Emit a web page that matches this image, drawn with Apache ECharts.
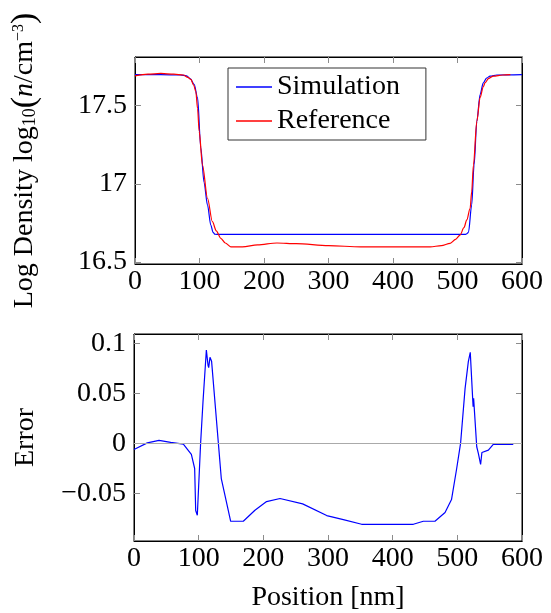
<!DOCTYPE html>
<html><head><meta charset="utf-8">
<script src="https://cdn.jsdelivr.net/npm/echarts@6/dist/echarts.min.js"></script>
<style>html,body{margin:0;padding:0;background:#fff}#c{width:551px;height:613px}</style>
</head><body><div id="c"></div>
<script>
// ---- Data ----
const simPos = [0, 40, 70, 80, 86, 91.7, 97, 102, 107, 112.4, 117.5, 121, 124, 130, 300, 511.8, 514, 517, 522, 525.7, 530, 535, 540, 545, 550.5, 561, 600];
const simVal = [17.697, 17.697, 17.695, 17.69, 17.67, 17.635, 17.55, 17.23, 17.01, 16.865, 16.737, 16.69, 16.678, 16.677, 16.677, 16.677, 16.68, 16.69, 16.865, 17.12, 17.4, 17.57, 17.645, 17.675, 17.688, 17.695, 17.697];

const refPos = [0, 20, 40, 60, 75, 82, 86.6, 91, 94.3, 97, 99.5, 104.6, 112.4, 120, 126, 133, 140, 148.5, 166.5, 190, 220, 250, 300, 350, 400, 457.7, 475, 488.6, 497, 504, 510, 514.4, 519.6, 522, 524.7, 530, 535, 540, 542.7, 548, 555.6, 570, 582];
const refVal = [17.69, 17.7, 17.705, 17.7, 17.695, 17.68, 17.667, 17.63, 17.59, 17.48, 17.335, 17.12, 16.908, 16.758, 16.7, 16.652, 16.622, 16.598, 16.598, 16.61, 16.622, 16.618, 16.605, 16.598, 16.598, 16.598, 16.605, 16.62, 16.645, 16.673, 16.72, 16.77, 16.844, 16.95, 17.12, 17.4, 17.55, 17.62, 17.645, 17.672, 17.688, 17.695, 17.697];

const errPos = [0, 2.6, 20.6, 38.7, 56.7, 76.3, 88.7, 93.8, 95.4, 97.9, 103, 106.7, 111.9, 114.5, 115.5, 117.5, 120, 135, 149.5, 169, 187, 205, 225.8, 260.8, 298, 323.7, 352, 432, 447.4, 465.4, 481, 491, 499, 505, 512, 517, 520, 523.7, 524.4, 525.2, 526.3, 530, 532.5, 536, 538, 548, 555.6, 586.5];
const errVal = [-0.006, -0.0057, 0.0006, 0.003, 0.001, -0.0007, -0.011, -0.025, -0.067, -0.0717, 0, 0.0416, 0.0933, 0.078, 0.0757, 0.086, 0.082, -0.035, -0.0777, -0.0777, -0.0667, -0.058, -0.055, -0.0603, -0.072, -0.076, -0.0807, -0.0807, -0.0777, -0.0777, -0.069, -0.056, -0.025, 0, 0.055, 0.0817, 0.091, 0.045, 0.0367, 0.045, 0.0433, -0.0033, -0.01, -0.021, -0.009, -0.0067, -0.001, -0.001];

const xTicks = [0, 100, 200, 300, 400, 500, 600];
const densTicks = [16.5, 17, 17.5];
const errTicks = [-0.05, 0, 0.05, 0.1];
const seriesNames = ['Simulation', 'Reference'];

// ---- Chart ----
const FONT = 'Liberation Serif';
const FS = 28;
const pair = (xs, ys) => xs.map((x, i) => [x, ys[i]]);
const tickGrey = '#8c8c8c';

function xAxisDef(gridIndex, showLabel, name, position) {
  return {
    type: 'value', gridIndex, min: 0, max: 600, interval: 100, position,
    axisLine: { show: true, onZero: false, lineStyle: { color: '#000', width: 1 } },
    axisTick: { show: true, inside: true, length: 6, customValues: xTicks, lineStyle: { color: tickGrey } },
    axisLabel: { show: showLabel, customValues: xTicks, color: '#000', fontFamily: FONT, fontSize: FS, margin: 4 },
    splitLine: { show: false },
    name: name || '', nameLocation: 'middle', nameGap: 43,
    nameTextStyle: { color: '#000', fontFamily: FONT, fontSize: FS }
  };
}
function yAxisDef(gridIndex, min, max, ticks, showLabel, name, position, fmt, rich, gap) {
  return {
    type: 'value', gridIndex, min, max, position,
    axisLine: { show: true, onZero: false, lineStyle: { color: '#000', width: 1 } },
    axisTick: { show: true, inside: true, length: 6, customValues: ticks, lineStyle: { color: tickGrey } },
    axisLabel: { show: showLabel, customValues: ticks, color: '#000', fontFamily: FONT, fontSize: FS, margin: 8, formatter: fmt },
    splitLine: { show: false },
    name: name || '', nameLocation: 'middle', nameGap: gap || 92,
    nameTextStyle: { color: '#000', fontFamily: FONT, fontSize: FS, rich: rich || {} }
  };
}

const errFmt = v => {
  if (Math.abs(v) < 1e-9) return '0';
  const s = String(+v.toFixed(2));
  return v < 0 ? '\u2212' + s.slice(1) : s;
};

const chart = echarts.init(document.getElementById('c'), null, { renderer: 'canvas' });
chart.setOption({
  animation: false,
  backgroundColor: '#fff',
  grid: [
    { left: 134, top: 57, width: 388, height: 207, show: true, borderColor: '#000', borderWidth: 1 },
    { left: 134, top: 334, width: 388, height: 207, show: true, borderColor: '#000', borderWidth: 1 }
  ],
  legend: {
    data: seriesNames.map(n => ({ name: n, icon: 'rect' })),
    left: 228, top: 68, orient: 'vertical',
    backgroundColor: '#fff', borderColor: '#333', borderWidth: 1,
    padding: [5, 26, 5, 8], itemGap: 6, itemWidth: 36, itemHeight: 1.4,
    textStyle: { fontFamily: FONT, fontSize: FS, color: '#000' }
  },
  xAxis: [
    xAxisDef(0, true, '', 'bottom'),
    xAxisDef(0, false, '', 'top'),
    xAxisDef(1, true, 'Position [nm]', 'bottom'),
    xAxisDef(1, false, '', 'top')
  ],
  yAxis: [
    yAxisDef(0, 16.488, 17.81, densTicks, true, '{t|Log Density log}{s|10}{b|(}{i|n}{t|/cm}{p|\u22123}{b|)}', 'left', v => String(v), {
      t: { fontFamily: FONT, fontSize: FS, color: '#000' },
      b: { fontFamily: FONT, fontSize: 34, color: '#000' },
      s: { fontFamily: FONT, fontSize: 18, color: '#000', padding: [11, 0, 0, 0] },
      i: { fontFamily: FONT, fontSize: FS, fontStyle: 'italic', color: '#000' },
      p: { fontFamily: FONT, fontSize: 16, color: '#000', padding: [0, 0, 12, 0] }
    }, 93),
    yAxisDef(0, 16.488, 17.81, densTicks, false, '', 'right'),
    yAxisDef(1, -0.0974, 0.1093, errTicks, true, 'Error', 'left', errFmt, null, 94),
    yAxisDef(1, -0.0974, 0.1093, errTicks, false, '', 'right')
  ],
  series: [
    {
      name: seriesNames[0], type: 'line', xAxisIndex: 0, yAxisIndex: 0,
      data: pair(simPos, simVal), showSymbol: false, symbol: 'none',
      smooth: 0.3, smoothMonotone: 'x',
      lineStyle: { color: '#0000ff', width: 1.2 }, itemStyle: { color: '#0000ff' }
    },
    {
      name: seriesNames[1], type: 'line', xAxisIndex: 0, yAxisIndex: 0,
      data: pair(refPos, refVal), showSymbol: false, symbol: 'none',
      smooth: 0.3, smoothMonotone: 'x',
      lineStyle: { color: '#ff0000', width: 1.2 }, itemStyle: { color: '#ff0000' }
    },
    {
      name: 'Error', type: 'line', xAxisIndex: 2, yAxisIndex: 2,
      data: pair(errPos, errVal), showSymbol: false, symbol: 'none',
      lineStyle: { color: '#0000ff', width: 1.2 }, itemStyle: { color: '#0000ff' },
      markLine: {
        silent: true, symbol: 'none', label: { show: false },
        lineStyle: { color: '#aaaaaa', width: 1, type: 'solid' },
        data: [{ yAxis: 0 }]
      },
      z: 3
    }
  ]
});
</script>
</body></html>
